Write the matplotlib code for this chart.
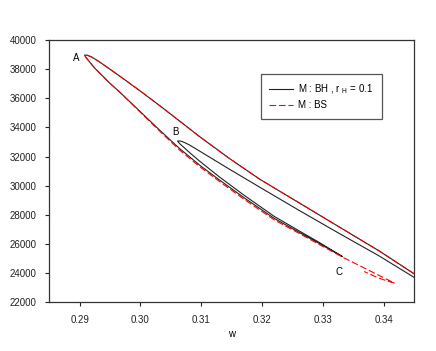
import numpy as np
import matplotlib
matplotlib.use("Agg")
import matplotlib.pyplot as plt

plt.rcParams['font.family'] = ['Liberation Sans', 'DejaVu Sans']

# upper branch, from right edge to cusp A (shared by both models)
w_upper = [0.345, 0.33929, 0.33436, 0.32943, 0.32450, 0.31957, 0.31464, 0.30971,
           0.30643, 0.30314, 0.29986, 0.29657, 0.29329, 0.29197, 0.29131, 0.29082]
y_upper = [23963, 25521, 26756, 27992, 29227, 30462, 31869, 33378,
           34442, 35505, 36535, 37530, 38490, 38833, 38950, 38971]

# BH: lower branch from A down to C
w_bh_lowA = [0.29099, 0.29164, 0.29246, 0.29329, 0.29493, 0.29657, 0.29986, 0.30314,
             0.30643, 0.30971, 0.31300, 0.31711, 0.32204, 0.32614, 0.32943, 0.33321]
y_bh_lowA = [38833, 38490, 38079, 37735, 37049, 36432, 35128, 33824,
             32555, 31423, 30393, 29158, 27752, 26791, 26036, 25143]

# BH: from C back up to cusp B
w_bh_lowB = [0.32943, 0.32614, 0.32204, 0.31711, 0.31300, 0.30971, 0.30807, 0.30725, 0.30643, 0.30610]
y_bh_lowB = [26104, 26894, 27889, 29330, 30599, 31697, 32280, 32589, 32898, 33069]

# BH: from B to the right edge
w_bh_upB = [0.30659, 0.30725, 0.30807, 0.30971, 0.31431, 0.31957, 0.32614, 0.33272, 0.33929, 0.345]
y_bh_upB = [33069, 32966, 32795, 32383, 31217, 29913, 28300, 26722, 25178, 23716]

# BS: lower branch from A past C to the small cusp and back
w_bs_low = [0.29099, 0.29164, 0.29246, 0.29329, 0.29493, 0.29657, 0.29986, 0.30314,
            0.30643, 0.30971, 0.31300, 0.31711, 0.32204, 0.32614, 0.32943, 0.33321,
            0.33600, 0.33846, 0.34011, 0.34175, 0.34060, 0.33896, 0.33682]
y_bs_low = [38833, 38490, 38079, 37735, 37049, 36432, 35094, 33755,
            32452, 31320, 30290, 29055, 27648, 26722, 25967, 25109,
            24526, 24011, 23668, 23325, 23462, 23702, 24114]

labels = ['A', 'B', 'C']
label_w = [0.28946, 0.30577, 0.33271]
label_y = [38744, 33687, 24101]

w_bh = w_upper + w_bh_lowA + w_bh_lowB + w_bh_upB
y_bh = y_upper + y_bh_lowA + y_bh_lowB + y_bh_upB
w_bs = w_upper + w_bs_low
y_bs = y_upper + y_bs_low

fig = plt.figure(figsize=(4.36, 3.51), dpi=100)
ax = fig.add_axes([0.113, 0.1387, 0.8365, 0.7473])

ax.plot(w_bh, y_bh, color='#222222', lw=0.8, label=r'M : BH , r $_\mathregular{H}$ = 0.1')
ax.plot(w_bs, y_bs, color='red', lw=0.8, dashes=(6, 2.5), label='M : BS')

for t, xw, yv in zip(labels, label_w, label_y):
    ax.text(xw, yv, t, fontsize=7, ha='center', va='center')

ax.set_xlim(0.285, 0.345)
ax.set_ylim(22000, 40000)
ax.set_xticks([0.29, 0.30, 0.31, 0.32, 0.33, 0.34])
ax.set_xticklabels(['0.29', '0.30', '0.31', '0.32', '0.33', '0.34'])
ax.set_yticks(np.arange(22000, 40001, 2000))
ax.tick_params(labelsize=7, direction='out', length=3, width=0.8, pad=6, colors='#222222')
for s in ax.spines.values():
    s.set_linewidth(0.9)
    s.set_color('#333333')

ax.set_xlabel('w', fontsize=7, labelpad=3)

leg = ax.legend(loc='upper left', bbox_to_anchor=(0.58, 0.87), borderaxespad=0,
                fontsize=7, fancybox=False, framealpha=1, edgecolor='#555555',
                handlelength=2.5, handletextpad=0.5, borderpad=0.85, labelspacing=0.45)
leg.get_frame().set_linewidth(0.9)

fig.savefig('out.png', dpi=100)
